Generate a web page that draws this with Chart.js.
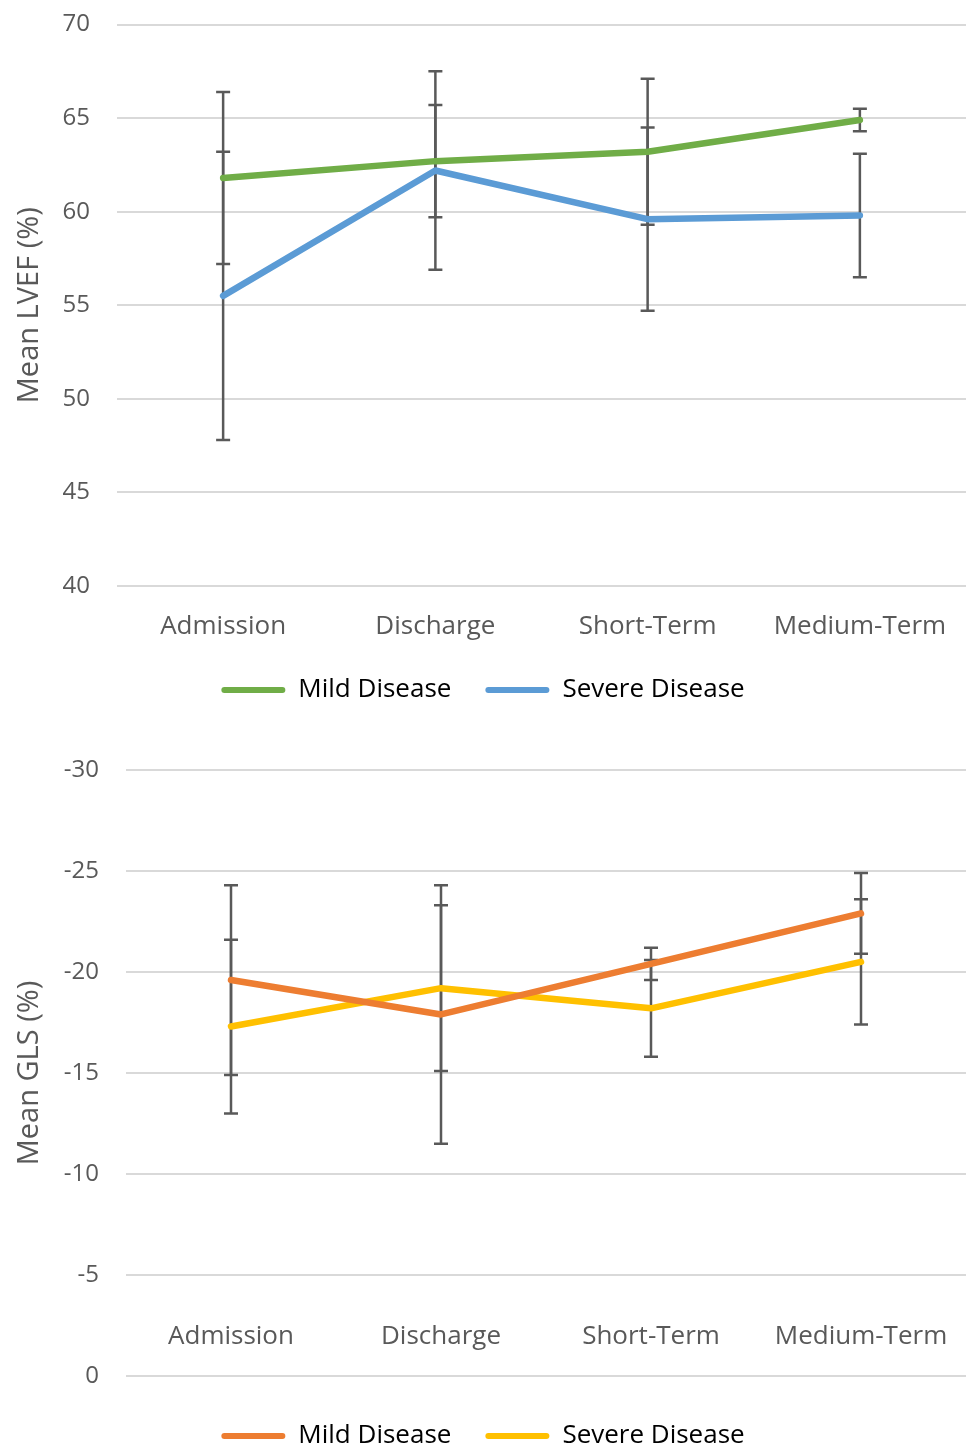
<!DOCTYPE html>
<html lang="en">
  <head>
    <meta charset="UTF-8" />
    <title>LVEF and GLS</title>
    <style>
      body {
        margin: 0;
        background: #fff;
      }
      #root {
        position: relative;
        width: 968px;
        height: 1450px;
        overflow: hidden;
      }
      canvas {
        position: absolute;
        left: 0;
      }
    </style>
  </head>
  <body>
    <div id="root">
      <canvas id="lvef" width="968" height="713" style="top: 0"></canvas>
      <canvas id="gls" width="968" height="746" style="top: 713px"></canvas>
    </div>

    <script src="https://cdn.jsdelivr.net/npm/chart.js@4.4.1/dist/chart.umd.min.js"></script>
    <script>
      const categories = ["Admission", "Discharge", "Short-Term", "Medium-Term"];
      const series_names = ["Mild Disease", "Severe Disease"];

      // LVEF (%)
      const lvef_mild = [61.8, 62.7, 63.2, 64.9];
      const lvef_mild_err = [4.6, 3.0, 3.9, 0.6];
      const lvef_severe = [55.5, 62.2, 59.6, 59.8];
      const lvef_severe_err = [7.7, 5.3, 4.9, 3.3];
      const lvef_ticks = { min: 40, max: 70, step: 5 };

      // GLS (%)
      const gls_mild = [-19.6, -17.9, -20.4, -22.9];
      const gls_mild_err = [4.7, 6.4, 0.8, 2.0];
      const gls_severe = [-17.3, -19.2, -18.2, -20.5];
      const gls_severe_err = [4.3, 4.1, 2.4, 3.1];
      const gls_ticks = { min: -30, max: 0, step: 5 };

      const text_color = "#595959";
      const grid_color = "#d9d9d9";
      Chart.defaults.font.family = "'Open Sans', sans-serif";
      Chart.defaults.color = text_color;

      // whiskers drawn under the lines, like the Excel original
      const error_bars = {
        id: "error_bars",
        beforeDatasetsDraw(chart) {
          const { ctx, scales } = chart;
          const x = scales.x, y = scales.y;
          ctx.save();
          ctx.strokeStyle = "#595959";
          ctx.lineWidth = 2.5;
          chart.data.datasets.forEach(ds => {
            ds.data.forEach((v, i) => {
              const px = x.getPixelForValue(i);
              const hi = y.getPixelForValue(v + ds.errors[i]);
              const lo = y.getPixelForValue(v - ds.errors[i]);
              ctx.beginPath();
              ctx.moveTo(px, hi);
              ctx.lineTo(px, lo);
              ctx.moveTo(px - 7, hi);
              ctx.lineTo(px + 7, hi);
              ctx.moveTo(px - 7, lo);
              ctx.lineTo(px + 7, lo);
              ctx.stroke();
            });
          });
          ctx.restore();
        },
      };

      const make_dataset = (label, data, errors, color) => ({
        label,
        data,
        errors,
        borderColor: color,
        backgroundColor: color,
        borderWidth: 6.5,
        borderCapStyle: "round",
        borderJoinStyle: "round",
        pointRadius: 0,
        tension: 0,
      });

      const legend_opts = {
        position: "bottom",
        labels: {
          boxWidth: 64,
          boxHeight: 6,
          padding: 34,
          font: { size: 26 },
          color: text_color,
          generateLabels: chart =>
            chart.data.datasets.map((ds, i) => ({
              text: ds.label,
              fillStyle: ds.borderColor,
              strokeStyle: ds.borderColor,
              lineWidth: 0,
              borderRadius: 3,
              datasetIndex: i,
            })),
        },
      };

      const y_axis = (ticks, title, width, reverse) => ({
        min: ticks.min,
        max: ticks.max,
        reverse,
        afterFit: s => {
          s.width = width;
          // don't let the label gap push the plot area around
          s.paddingTop = 0;
          s.paddingBottom = 0;
        },
        ticks: { stepSize: ticks.step, font: { size: 24 }, padding: 27, color: text_color },
        grid: { color: grid_color, lineWidth: 2, drawTicks: false },
        border: { display: false },
        title: {
          display: true,
          text: title,
          font: { size: 29, lineHeight: 1.2 },
          padding: { top: 12, bottom: 0 },
          color: text_color,
        },
      });

      const x_axis = (height, pad, mirror) => ({
        type: "category",
        offset: true,
        afterFit: s => {
          s.height = height;
          s.paddingLeft = 0;
          s.paddingRight = 0;
        },
        grid: { display: false },
        border: { display: false },
        ticks: { font: { size: 26 }, padding: pad, mirror, color: text_color, maxRotation: 0 },
      });

      new Chart(document.getElementById("lvef"), {
        type: "line",
        data: {
          labels: categories,
          datasets: [
            make_dataset(series_names[0], lvef_mild, lvef_mild_err, "#70ad47"),
            make_dataset(series_names[1], lvef_severe, lvef_severe_err, "#5b9bd5"),
          ],
        },
        options: {
          responsive: false,
          animation: false,
          layout: { padding: { top: 24.5, right: 2, left: 0, bottom: 0 } },
          plugins: { legend: legend_opts, tooltip: { enabled: false } },
          scales: {
            x: x_axis(57, 17, false),
            y: y_axis(lvef_ticks, "Mean LVEF (%)", 117, false),
          },
        },
        plugins: [error_bars],
      });

      new Chart(document.getElementById("gls"), {
        type: "line",
        data: {
          labels: categories,
          datasets: [
            make_dataset(series_names[0], gls_mild, gls_mild_err, "#ed7d31"),
            make_dataset(series_names[1], gls_severe, gls_severe_err, "#ffc000"),
          ],
        },
        options: {
          responsive: false,
          animation: false,
          layout: { padding: { top: 57, right: 2, left: 0, bottom: 0 } },
          plugins: { legend: legend_opts, tooltip: { enabled: false } },
          scales: {
            // mirrored: category labels sit inside the plot, just above the 0 line
            x: x_axis(13, 24, true),
            y: y_axis(gls_ticks, "Mean GLS (%)", 126, true),
          },
        },
        plugins: [error_bars],
      });
    </script>
  </body>
</html>
